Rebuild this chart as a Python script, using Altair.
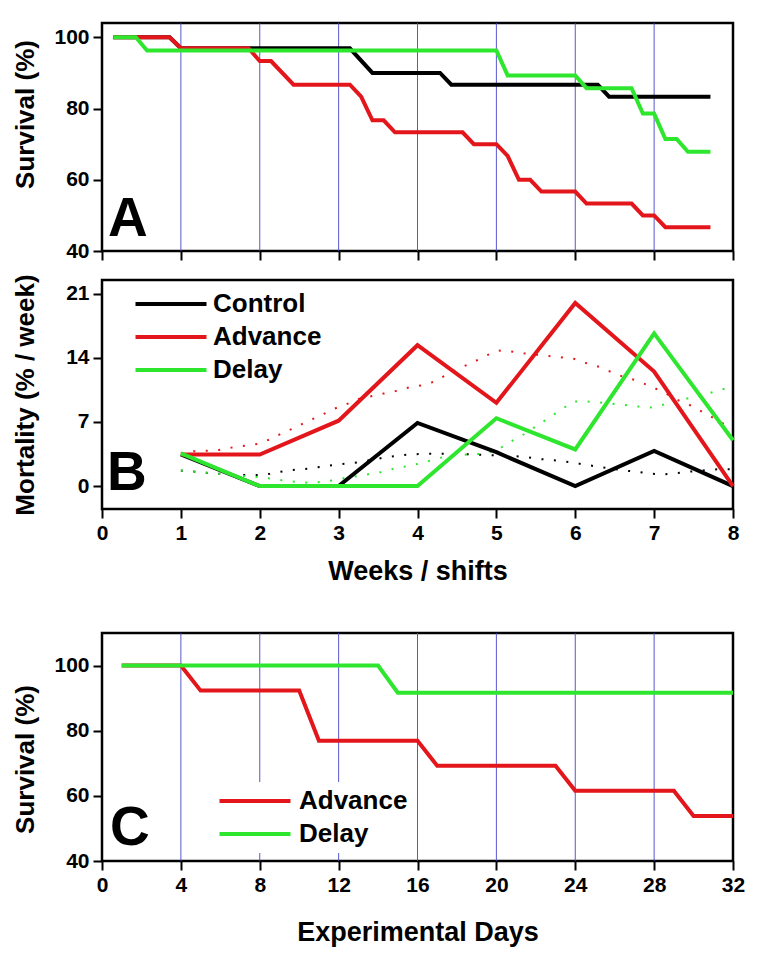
import altair as alt
import pandas as pd

FONT = "Liberation Sans, Arial, Helvetica, sans-serif"
BLACK, RED, GREEN = "#000000", "#e3161b", "#2fe62f"
GRID = "#4545c8"

# ---------------- Panel A: survival by day (plotted in weeks) ----------------
a_ctrl_day = [1, 6, 7, 22, 24, 30, 31, 44, 45, 54]
a_ctrl_surv = [100, 100, 96.9, 96.9, 90, 90, 86.67, 86.67, 83.33, 83.33]
a_adv_day = [1, 6, 7, 13, 14, 15, 17, 22, 23, 24, 25, 26, 32, 33, 35, 36, 37,
             38, 39, 42, 43, 47, 48, 49, 50, 54]
a_adv_surv = [100, 100, 96.9, 96.9, 93.33, 93.33, 86.67, 86.67, 83.33, 76.67,
              76.67, 73.33, 73.33, 70, 70, 66.67, 60, 60, 56.67, 56.67, 53.33,
              53.33, 50, 50, 46.67, 46.67]
a_del_day = [1, 3, 4, 35, 36, 42, 43, 47, 48, 49, 50, 51, 52, 54]
a_del_surv = [100, 100, 96.3, 96.3, 89.29, 89.29, 85.71, 85.71, 78.57, 78.57,
              71.43, 71.43, 67.86, 67.86]
a_grid_weeks = [1, 2, 3, 4, 5, 6, 7]

# ---------------- Panel B: weekly mortality ----------------
b_weeks = [1, 2, 3, 4, 5, 6, 7, 8]
b_ctrl = [3.45, 0, 0, 6.9, 3.7, 0, 3.85, 0]
b_adv = [3.45, 3.45, 7.14, 15.38, 9.09, 20.0, 12.5, 0]
b_del = [3.57, 0, 0, 0, 7.41, 4.0, 16.67, 5.0]

# smoothed (dotted) curves
bs_x = [1.0, 1.16, 1.33, 1.48, 1.64, 1.8, 1.97, 2.13, 2.29, 2.45, 2.61, 2.77,
        2.93, 3.09, 3.25, 3.41, 3.57, 3.74, 3.9, 4.06, 4.21, 4.38, 4.54, 4.7,
        4.86, 5.02, 5.18, 5.35, 5.51, 5.67, 5.83, 5.98, 6.15, 6.31, 6.47, 6.62,
        6.79, 6.95, 7.11, 7.27, 7.44, 7.61, 7.76, 7.92, 8.0]
bs_adv = [3.6, 3.8, 3.85, 3.95, 4.2, 4.4, 4.6, 5.1, 5.8, 6.4, 7.1, 7.7, 8.4, 8.9,
          9.5, 9.8, 10.1, 10.4, 10.8, 11.0, 11.4, 12.2, 12.9, 13.5, 14.2, 14.8,
          14.7, 14.5, 14.35, 14.2, 14.05, 13.9, 13.4, 13.0, 12.4, 11.9, 11.5,
          10.9, 10.3, 9.5, 8.9, 8.1, 7.4, 6.6, 6.3]
bs_ctrl = [1.7, 1.6, 1.45, 1.35, 1.25, 1.2, 1.2, 1.35, 1.6, 1.8, 1.9, 2.1, 2.3,
           2.45, 2.6, 2.85, 3.1, 3.3, 3.47, 3.5, 3.54, 3.54, 3.5, 3.47, 3.4,
           3.35, 3.3, 3.2, 3.0, 2.85, 2.74, 2.55, 2.3, 2.1, 1.9, 1.7, 1.57,
           1.35, 1.28, 1.39, 1.57, 1.7, 1.82, 1.85, 1.85]
bs_del = [1.72, 1.57, 1.46, 1.35, 1.2, 1.1, 0.99, 0.84, 0.62, 0.47, 0.36, 0.45,
          0.62, 0.91, 1.1, 1.35, 1.57, 2.0, 2.2, 2.55, 2.9, 3.3, 3.4, 3.47,
          3.54, 4.0, 4.85, 5.66, 6.57, 7.48, 8.4, 9.23, 9.23, 9.12, 9.0, 8.87,
          8.7, 8.58, 8.87, 9.23, 9.6, 9.96, 10.3, 10.7, 10.8]

# ---------------- Panel C: survival by experimental day ----------------
c_adv_day = [1, 4, 5, 10, 11, 16, 17, 23, 24, 29, 30, 32]
c_adv_surv = [100, 100, 92.31, 92.31, 76.92, 76.92, 69.23, 69.23, 61.54, 61.54,
              53.85, 53.85]
c_del_day = [1, 14, 15, 32]
c_del_surv = [100, 100, 91.67, 91.67]
c_grid_days = [4, 8, 12, 16, 20, 24, 28]

NAMES = ["Control", "Advance", "Delay"]
COLORS = [BLACK, RED, GREEN]


def frame(xs, ys, name):
    return pd.DataFrame({"x": list(xs), "y": list(ys), "series": name,
                         "i": list(range(len(xs)))})


def letter(t, x, y):
    return alt.Chart(pd.DataFrame({"t": [t]})).mark_text(
        font=FONT, fontSize=55, fontWeight="bold", align="left",
        baseline="alphabetic", color="black"
    ).encode(x=alt.value(x), y=alt.value(y), text="t:N")


def legend(x, y, pad, offset, fill=None):
    kw = dict(title=None, orient="none", legendX=x, legendY=y,
              symbolType="M-3.55,0L3.55,0", symbolSize=400, symbolStrokeWidth=4,
              labelFont=FONT, labelFontSize=26, labelFontWeight="bold",
              labelColor="black", labelOffset=offset, rowPadding=7, padding=pad)
    if fill:
        kw["fillColor"] = fill
    return alt.Legend(**kw)


# ---------------- Build A ----------------
WA, HA = 631, 228
xA = alt.X("x:Q", scale=alt.Scale(domain=[0, 8], nice=False, zero=False),
           axis=alt.Axis(values=list(range(9)), labels=False, title=None))
yA = alt.Y("y:Q", scale=alt.Scale(domain=[40, 104], nice=False, zero=False),
           axis=alt.Axis(values=[40, 60, 80, 100], title="Survival (%)",
                         titleX=-69, titleY=91, titleBaseline="alphabetic"))

dfA = pd.concat([
    frame([d / 7 for d in a_ctrl_day], a_ctrl_surv, "Control"),
    frame([d / 7 for d in a_adv_day], a_adv_surv, "Advance"),
    frame([d / 7 for d in a_del_day], a_del_surv, "Delay"),
])
gridA = alt.Chart(pd.DataFrame({"x": a_grid_weeks})).mark_rule(
    color=GRID, strokeWidth=0.9).encode(x=xA)
linesA = [
    alt.Chart(dfA).transform_filter(alt.datum.series == n).mark_line(
        color=c, strokeWidth=4).encode(x=xA, y=yA, order="i:Q")
    for n, c in zip(NAMES, COLORS)
]
chartA = alt.layer(gridA, *linesA, letter("A", 6, 213)).properties(width=WA, height=HA)

# ---------------- Build B ----------------
HB = 229
xB = alt.X("x:Q", scale=alt.Scale(domain=[0, 8], nice=False, zero=False),
           axis=alt.Axis(values=list(range(9)), title="Weeks / shifts",
                         titlePadding=15, titleFontSize=27))
yB = alt.Y("y:Q", scale=alt.Scale(domain=[-2.5, 22.5], nice=False, zero=False),
           axis=alt.Axis(values=[0, 7, 14, 21], title="Mortality (% / week)",
                         titleX=-69, titleY=HB / 2, titleBaseline="alphabetic"))

dfB = pd.concat([
    frame(b_weeks, b_ctrl, "Control"),
    frame(b_weeks, b_adv, "Advance"),
    frame(b_weeks, b_del, "Delay"),
])
dfBs = pd.concat([
    frame(bs_x, bs_ctrl, "Control"),
    frame(bs_x, bs_adv, "Advance"),
    frame(bs_x, bs_del, "Delay"),
])
colorB = alt.Color("series:N", scale=alt.Scale(domain=NAMES, range=COLORS),
                   legend=legend(56, 11, 0, 29))
dotsB = [
    alt.Chart(dfBs).transform_filter(alt.datum.series == n).mark_line(
        color=c, strokeWidth=2, strokeDash=[2, 10.5]).encode(x=xB, y=yB, order="i:Q")
    for n, c in zip(NAMES, COLORS)
]
linesB = [
    alt.Chart(dfB).transform_filter(alt.datum.series == n).mark_line(
        strokeWidth=4).encode(x=xB, y=yB, color=colorB, order="i:Q")
    for n in NAMES
]
chartB = alt.layer(*dotsB, *linesB, letter("B", 5, 210)).properties(width=WA, height=HB)

# ---------------- Build C ----------------
HC = 228
xC = alt.X("x:Q", scale=alt.Scale(domain=[0, 32], nice=False, zero=False),
           axis=alt.Axis(values=list(range(0, 33, 4)), title="Experimental Days",
                         titlePadding=24, titleFontSize=27))
yC = alt.Y("y:Q", scale=alt.Scale(domain=[40, 110], nice=False, zero=False),
           axis=alt.Axis(values=[40, 60, 80, 100], title="Survival (%)",
                         titleX=-69, titleY=126, titleBaseline="alphabetic"))
dfC = pd.concat([
    frame(c_adv_day, c_adv_surv, "Advance"),
    frame(c_del_day, c_del_surv, "Delay"),
])
colorC = alt.Color("series:N", scale=alt.Scale(domain=["Advance", "Delay"],
                                               range=[RED, GREEN]),
                   legend=legend(134, 149, 6, 31, "white"))
gridC = alt.Chart(pd.DataFrame({"x": c_grid_days})).mark_rule(
    color=GRID, strokeWidth=0.9).encode(x=xC)
linesC = [
    alt.Chart(dfC).transform_filter(alt.datum.series == n).mark_line(
        strokeWidth=4).encode(x=xC, y=yC, color=colorC, order="i:Q")
    for n in ["Advance", "Delay"]
]
chartC = alt.layer(gridC, *linesC, letter("C", 8, 212)).properties(width=WA, height=HC)

top = alt.vconcat(chartA, chartB, spacing=9).resolve_scale(color="independent")
chart = alt.vconcat(top, chartC, spacing=45).resolve_scale(
    color="independent").resolve_legend(color="independent").properties(
    padding={"left": 2, "top": 13, "right": 5, "bottom": 5}
).configure_view(stroke="black", strokeWidth=2.5).configure_axis(
    labelFont=FONT, labelFontSize=21, labelFontWeight="bold", labelColor="black",
    titleFont=FONT, titleFontSize=26, titleFontWeight="bold", titleColor="black",
    tickColor="black", tickWidth=2, tickSize=9, labelPadding=4, domain=False,
    grid=False, labelFlush=False, labelOverlap=False
)

chart.save("out.html", embed_options={"renderer": "svg", "actions": False})
